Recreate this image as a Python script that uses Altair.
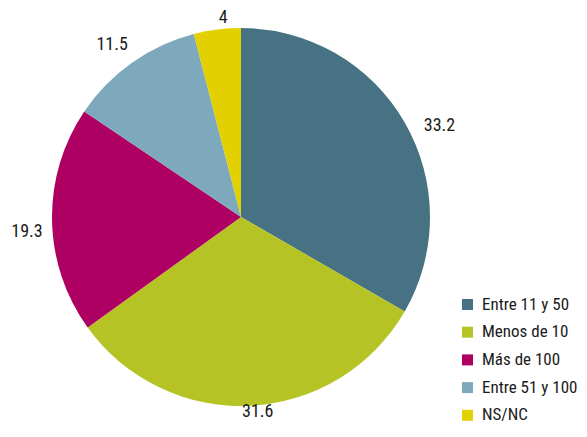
import altair as alt
import pandas as pd

categories = ["Entre 11 y 50", "Menos de 10", "Más de 100", "Entre 51 y 100", "NS/NC"]
values = [33.2, 31.6, 19.3, 11.5, 4]
labels = ["33.2", "31.6", "19.3", "11.5", "4"]
colors = ["#477283", "#b5c424", "#ae0062", "#7ea9bc", "#e2d000"]

df = pd.DataFrame({"cat": categories, "value": values, "label": labels, "idx": list(range(len(values)))})

FONT = "Roboto Condensed, Roboto, sans-serif"
FS = 18
LFS = 17
CX, CY = 233, 209
W, H = 571, 413

# style: small per-label nudges of the value labels (dx, dy) relative to the radial position
nudges = {
    "33.2": (14, 15),
    "31.6": (6, -18),
    "19.3": (-1, 12),
    "11.5": (-6, 2),
    "4": (9, 12),
}

base = alt.Chart(df).encode(
    theta=alt.Theta("value:Q", stack=True),
    order=alt.Order("idx:Q"),
)

pie = base.mark_arc(radius=189).encode(
    x=alt.value(CX),
    y=alt.value(CY),
    color=alt.Color(
        "cat:N",
        scale=alt.Scale(domain=categories, range=colors),
        sort=categories,
        legend=alt.Legend(
            title=None,
            orient="none",
            legendX=451,
            legendY=288,
            padding=0,
            symbolType="square",
            symbolSize=121,
            symbolStrokeWidth=0,
            labelFont=FONT,
            labelFontSize=LFS,
            labelColor="#1a1a1a",
            labelOffset=6,
            labelLimit=200,
            rowPadding=9.7,
        ),
    ),
)

layers = [pie]
for lab, (ddx, ddy) in nudges.items():
    layers.append(
        base.mark_text(radius=213, font=FONT, fontSize=FS, color="#1a1a1a", dx=ddx, dy=ddy)
        .encode(
            x=alt.value(CX),
            y=alt.value(CY),
            text="label:N",
            opacity=alt.condition(alt.datum.label == lab, alt.value(1), alt.value(0)),
        )
    )

chart = (
    alt.layer(*layers)
    .properties(width=W, height=H, padding=0, autosize=alt.AutoSizeParams(type="none"))
    .configure_view(stroke=None)
)

chart.save("out.html", embed_options={"renderer": "svg", "actions": False})
